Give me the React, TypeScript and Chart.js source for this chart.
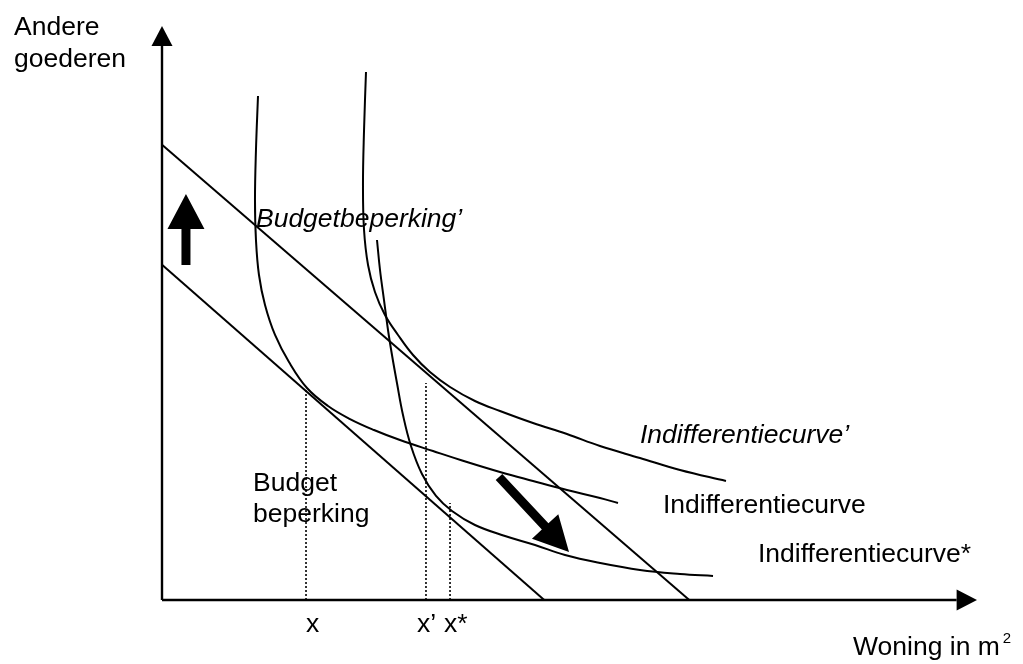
import React, { useEffect, useRef } from "react";
import { Chart, registerables } from "chart.js";

Chart.register(...registerables);

// Value space: x = woning (0..100), y = andere goederen (0..100)
const budgetLine: [number, number][] = [[0, 58.4], [46.9, 0]];
const budgetLinePrime: [number, number][] = [[0, 79.3], [64.7, 0]];

const indiffCurve: [number, number][] = [
  [11.78, 87.8], [11.53, 78.4], [11.41, 69.69], [11.53, 62.72], [11.9, 56.62],
  [12.64, 51.39], [13.87, 46.17], [15.58, 41.46], [17.79, 36.93], [20.37, 33.8],
  [23.07, 31.53], [26.01, 29.62], [29.2, 27.87], [33.25, 25.96], [37.42, 24.04],
  [41.47, 22.3], [45.52, 20.73], [49.69, 19.16], [53.74, 17.77], [55.95, 16.9],
];

const indiffCurvePrime: [number, number][] = [
  [25.03, 91.99], [24.79, 81.88], [24.66, 72.3], [24.79, 64.46], [25.28, 58.36],
  [26.13, 53.66], [27.36, 49.65], [28.96, 46.17], [30.8, 42.68], [32.88, 39.72],
  [35.34, 37.11], [38.4, 34.67], [41.47, 32.93], [45.52, 30.84], [49.69, 28.92],
  [53.74, 26.83], [58.65, 24.74], [63.56, 22.65], [69.2, 20.73],
];

const indiffCurveStar: [number, number][] = [
  [26.38, 62.72], [26.75, 57.49], [27.24, 52.26], [27.73, 47.04], [28.22, 42.68],
  [28.83, 37.8], [29.57, 32.23], [30.55, 26.83], [31.9, 21.95], [33.62, 18.12],
  [35.58, 15.51], [38.4, 13.07], [42.09, 11.15], [45.77, 9.58], [49.45, 7.84],
  [53.74, 6.45], [58.65, 5.23], [63.56, 4.53], [67.61, 4.18],
];

// dotted guides: [x, top y]
const guideX = [17.67, 32.39, 35.34];
const guideTop = [36.59, 37.8, 16.9];

// axis lines end / arrow tips
const yAxisEnd = 96.5;
const yAxisTip = 100;
const xAxisEnd = 97.5;
const xAxisTip = 100;

// thick arrows: [tailX, tailY, tipX, tipY]
const arrowUp = [2.94, 58.36, 2.94, 70.73];
const arrowDown = [41.35, 21.43, 49.94, 8.36];

// labels
const labelTexts = [
  "Andere", "goederen", "Budgetbeperking\u2019", "Indifferentiecurve\u2019",
  "Indifferentiecurve", "Indifferentiecurve*", "Budget", "beperking",
  "x", "x\u2019", "x*", "Woning in m",
];
const labelX = [-18.16, -18.16, 11.53, 58.65, 61.47, 73.13, 11.17, 11.17, 17.67, 31.29, 34.6, 84.79];
const labelY = [98.43, 92.86, 64.98, 27.35, 15.16, 6.62, 18.99, 13.59, -5.57, -5.57, -5.57, -9.58];
const labelItalic = [false, false, true, true, false, false, false, false, false, false, false, false];
const superscript = "2";

const FONT = '"Liberation Sans", Arial, Helvetica, sans-serif';

function toPts(arr: [number, number][]) {
  return arr.map(([x, y]) => ({ x, y }));
}

function drawArrow(
  ctx: CanvasRenderingContext2D,
  x1: number, y1: number, x2: number, y2: number,
  headLen: number, headW: number, shaftW: number
) {
  const dx = x2 - x1;
  const dy = y2 - y1;
  const len = Math.hypot(dx, dy);
  const ux = dx / len;
  const uy = dy / len;
  const nx = -uy;
  const ny = ux;
  const bx = x2 - ux * headLen;
  const by = y2 - uy * headLen;
  ctx.beginPath();
  if (shaftW > 0) {
    ctx.moveTo(x1 + nx * shaftW / 2, y1 + ny * shaftW / 2);
    ctx.lineTo(bx + nx * shaftW / 2, by + ny * shaftW / 2);
    ctx.lineTo(bx + nx * headW / 2, by + ny * headW / 2);
    ctx.lineTo(x2, y2);
    ctx.lineTo(bx - nx * headW / 2, by - ny * headW / 2);
    ctx.lineTo(bx - nx * shaftW / 2, by - ny * shaftW / 2);
    ctx.lineTo(x1 - nx * shaftW / 2, y1 - ny * shaftW / 2);
  } else {
    ctx.moveTo(bx + nx * headW / 2, by + ny * headW / 2);
    ctx.lineTo(x2, y2);
    ctx.lineTo(bx - nx * headW / 2, by - ny * headW / 2);
  }
  ctx.closePath();
  ctx.fill();
}

const decorPlugin = {
  id: "decor",
  afterDatasetsDraw(chart: any) {
    const ctx: CanvasRenderingContext2D = chart.ctx;
    const xs = chart.scales.x;
    const ys = chart.scales.y;
    const px = (v: number) => xs.getPixelForValue(v);
    const py = (v: number) => ys.getPixelForValue(v);
    ctx.save();
    ctx.fillStyle = "#000";
    // axis arrowheads
    drawArrow(ctx, px(0), py(yAxisEnd), px(0), py(yAxisTip), py(yAxisEnd) - py(yAxisTip), 21, 0);
    drawArrow(ctx, px(xAxisEnd), py(0), px(xAxisTip), py(0), px(xAxisTip) - px(xAxisEnd), 21, 0);
    // thick arrows
    drawArrow(ctx, px(arrowUp[0]), py(arrowUp[1]), px(arrowUp[2]), py(arrowUp[3]), 35, 37, 9);
    drawArrow(ctx, px(arrowDown[0]), py(arrowDown[1]), px(arrowDown[2]), py(arrowDown[3]), 35, 36, 9);
    // labels
    ctx.textBaseline = "alphabetic";
    ctx.textAlign = "left";
    for (let i = 0; i < labelTexts.length; i++) {
      ctx.font = `${labelItalic[i] ? "italic " : ""}26.5px ${FONT}`;
      const tx = px(labelX[i]);
      const ty = py(labelY[i]);
      ctx.fillText(labelTexts[i], tx, ty);
      if (i === labelTexts.length - 1) {
        const w = ctx.measureText(labelTexts[i]).width;
        ctx.font = `15px ${FONT}`;
        ctx.fillText(superscript, tx + w + 3, ty - 12);
      }
    }
    ctx.restore();
  },
};

export default function App() {
  const ref = useRef<HTMLCanvasElement | null>(null);
  useEffect(() => {
    if (!ref.current) return;
    const line = (data: { x: number; y: number }[], extra: any = {}) => ({
      data,
      showLine: true,
      borderColor: "#000",
      backgroundColor: "#000",
      borderWidth: 2,
      pointRadius: 0,
      pointHoverRadius: 0,
      tension: 0.4,
      fill: false,
      clip: false,
      ...extra,
    });
    const datasets: any[] = [
      line([{ x: 0, y: 0 }, { x: 0, y: yAxisEnd }], { borderWidth: 2.4, tension: 0 }),
      line([{ x: 0, y: 0 }, { x: xAxisEnd, y: 0 }], { borderWidth: 2.4, tension: 0 }),
      line(toPts(budgetLine), { tension: 0 }),
      line(toPts(budgetLinePrime), { tension: 0 }),
      line(toPts(indiffCurve)),
      line(toPts(indiffCurvePrime)),
      line(toPts(indiffCurveStar)),
      ...guideX.map((gx, i) =>
        line([{ x: gx, y: 0 }, { x: gx, y: guideTop[i] }], {
          tension: 0,
          borderWidth: 1.6,
          borderDash: [2, 2],
        })
      ),
    ];
    const chart = new Chart(ref.current, {
      type: "scatter",
      data: { datasets },
      options: {
        animation: false,
        responsive: false,
        devicePixelRatio: 1,
        events: [],
        layout: { padding: { left: 162, right: 46, top: 26, bottom: 64 } },
        plugins: { legend: { display: false }, tooltip: { enabled: false } },
        scales: {
          x: { type: "linear", min: 0, max: 100, display: false },
          y: { type: "linear", min: 0, max: 100, display: false },
        },
      },
      plugins: [decorPlugin],
    });
    return () => chart.destroy();
  }, []);
  return (
    <div style={{ position: "fixed", left: 0, top: 0, width: 1023, height: 664, background: "#fff" }}>
      <canvas ref={ref} width={1023} height={664} style={{ width: 1023, height: 664, display: "block" }} />
    </div>
  );
}
